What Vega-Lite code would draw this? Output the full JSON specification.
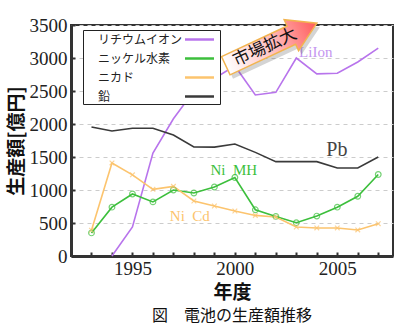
{
  "$schema": "https://vega.github.io/schema/vega-lite/v6.json",
  "autosize": "none",
  "width": 322,
  "height": 231,
  "padding": {"left": 71, "top": 25, "right": 7, "bottom": 75},
  "background": "white",
  "title": {"text": "図　電池の生産額推移", "orient": "bottom", "frame": "group", "anchor": "middle", "font": "Noto Sans CJK JP", "fontSize": 16, "fontWeight": "normal", "color": "#111", "offset": 6},
  "config": {
    "view": {"stroke": "#333", "strokeWidth": 2},
    "axis": {"domainColor": "#333", "domainWidth": 3, "labelFont": "Liberation Serif", "labelFontSize": 19, "labelColor": "#222", "titleFont": "Noto Sans CJK JP", "titleFontSize": 19, "titleFontWeight": "bold", "titleColor": "#111", "tickColor": "#333", "labelOverlap": false}
  },
  "datasets": {
    "main": [
      {"series": "リチウムイオン", "year": 1994, "value": 0},
      {"series": "リチウムイオン", "year": 1995, "value": 440},
      {"series": "リチウムイオン", "year": 1996, "value": 1560},
      {"series": "リチウムイオン", "year": 1997, "value": 2080},
      {"series": "リチウムイオン", "year": 1998, "value": 2500},
      {"series": "リチウムイオン", "year": 1999, "value": 2690},
      {"series": "リチウムイオン", "year": 2000, "value": 2880},
      {"series": "リチウムイオン", "year": 2001, "value": 2440},
      {"series": "リチウムイオン", "year": 2002, "value": 2480},
      {"series": "リチウムイオン", "year": 2003, "value": 3000},
      {"series": "リチウムイオン", "year": 2004, "value": 2760},
      {"series": "リチウムイオン", "year": 2005, "value": 2770},
      {"series": "リチウムイオン", "year": 2006, "value": 2940},
      {"series": "リチウムイオン", "year": 2007, "value": 3150},
      {"series": "ニッケル水素", "year": 1993, "value": 350},
      {"series": "ニッケル水素", "year": 1994, "value": 740},
      {"series": "ニッケル水素", "year": 1995, "value": 940},
      {"series": "ニッケル水素", "year": 1996, "value": 820},
      {"series": "ニッケル水素", "year": 1997, "value": 1000},
      {"series": "ニッケル水素", "year": 1998, "value": 955},
      {"series": "ニッケル水素", "year": 1999, "value": 1045},
      {"series": "ニッケル水素", "year": 2000, "value": 1190},
      {"series": "ニッケル水素", "year": 2001, "value": 700},
      {"series": "ニッケル水素", "year": 2002, "value": 600},
      {"series": "ニッケル水素", "year": 2003, "value": 505},
      {"series": "ニッケル水素", "year": 2004, "value": 605},
      {"series": "ニッケル水素", "year": 2005, "value": 740},
      {"series": "ニッケル水素", "year": 2006, "value": 905},
      {"series": "ニッケル水素", "year": 2007, "value": 1235},
      {"series": "ニカド", "year": 1993, "value": 390},
      {"series": "ニカド", "year": 1994, "value": 1410},
      {"series": "ニカド", "year": 1995, "value": 1230},
      {"series": "ニカド", "year": 1996, "value": 1010},
      {"series": "ニカド", "year": 1997, "value": 1055},
      {"series": "ニカド", "year": 1998, "value": 833},
      {"series": "ニカド", "year": 1999, "value": 758},
      {"series": "ニカド", "year": 2000, "value": 682},
      {"series": "ニカド", "year": 2001, "value": 615},
      {"series": "ニカド", "year": 2002, "value": 590},
      {"series": "ニカド", "year": 2003, "value": 440},
      {"series": "ニカド", "year": 2004, "value": 425},
      {"series": "ニカド", "year": 2005, "value": 425},
      {"series": "ニカド", "year": 2006, "value": 395},
      {"series": "ニカド", "year": 2007, "value": 490},
      {"series": "鉛", "year": 1993, "value": 1955},
      {"series": "鉛", "year": 1994, "value": 1894},
      {"series": "鉛", "year": 1995, "value": 1935},
      {"series": "鉛", "year": 1996, "value": 1935},
      {"series": "鉛", "year": 1997, "value": 1833},
      {"series": "鉛", "year": 1998, "value": 1652},
      {"series": "鉛", "year": 1999, "value": 1650},
      {"series": "鉛", "year": 2000, "value": 1697},
      {"series": "鉛", "year": 2001, "value": 1570},
      {"series": "鉛", "year": 2002, "value": 1430},
      {"series": "鉛", "year": 2003, "value": 1430},
      {"series": "鉛", "year": 2004, "value": 1430},
      {"series": "鉛", "year": 2005, "value": 1333},
      {"series": "鉛", "year": 2006, "value": 1333},
      {"series": "鉛", "year": 2007, "value": 1500}
    ],
    "labels": [
      {"series": "リチウムイオン", "text": "LiIon", "year": 2003.95, "value": 3090},
      {"series": "鉛", "text": "Pb", "year": 2004.98, "value": 1606},
      {"series": "ニッケル水素", "text": "Ni\u00a0\u00a0MH", "year": 1999.95, "value": 1303},
      {"series": "ニカド", "text": "Ni\u00a0\u00a0Cd", "year": 1997.8, "value": 606}
    ],
    "arrow": [
      {"text": "市場拡大", "year": 2001.78, "value": 3205}
    ]
  },
  "encoding": {
    "x": {"field": "year", "type": "quantitative", "scale": {"domain": [1992, 2007.72], "nice": false, "zero": false},
      "axis": {"values": [1993,1994,1995,1996,1997,1998,1999,2000,2001,2002,2003,2004,2005,2006,2007], "labelExpr": "datum.value % 5 == 0 ? datum.label : ''", "format": "d", "title": "年度", "grid": false, "ticks": true, "tickSize": -4, "tickWidth": 2, "labelPadding": 7, "titlePadding": 5, "labelFont": "Liberation Serif", "labelFontSize": 19, "labelOverlap": false}},
    "y": {"field": "value", "type": "quantitative", "scale": {"domain": [0, 3500], "nice": false},
      "axis": {"values": [0,500,1000,1500,2000,2500,3000,3500], "format": "d", "title": "生産額[億円]", "grid": true, "gridDash": [4, 4], "gridColor": "#cccccc", "ticks": true, "tickSize": -4, "tickWidth": 2, "labelPadding": 8, "titlePadding": 3, "labelFont": "Liberation Serif", "labelFontSize": 19, "labelOverlap": false}}
  },
  "layer": [
    {
      "data": {"name": "main"},
      "mark": {"type": "line", "strokeWidth": 1.6},
      "encoding": {
        "color": {"field": "series", "type": "nominal",
          "scale": {"domain": ["リチウムイオン", "ニッケル水素", "ニカド", "鉛"], "range": ["#b874ec", "#3cbf3c", "#fcc46e", "#3a3a3a"]},
          "legend": {"orient": "none", "legendX": 12, "legendY": 5, "title": null, "symbolType": "M-2,0L2,0", "symbolSize": 210, "symbolStrokeWidth": 2.5, "labelFont": "Noto Sans CJK JP", "labelFontSize": 12, "labelColor": "#222", "strokeColor": "#222", "fillColor": "white", "padding": 1, "rowPadding": 4, "symbolOffset": 107, "labelOffset": -110, "labelLimit": 200}}
      }
    },
    {
      "data": {"name": "main"},
      "transform": [{"filter": "datum.series == 'ニッケル水素'"}],
      "mark": {"type": "point", "shape": "circle", "filled": false, "size": 32, "stroke": "#3cbf3c", "strokeWidth": 1.2}
    },
    {
      "data": {"name": "main"},
      "transform": [{"filter": "datum.series == 'ニカド'"}],
      "mark": {"type": "point", "shape": "M-1,-1L1,1M-1,1L1,-1", "filled": false, "size": 22, "stroke": "#fcc46e", "strokeWidth": 1.2}
    },
    {
      "data": {"name": "labels"},
      "transform": [{"filter": "datum.series == 'リチウムイオン'"}],
      "mark": {"type": "text", "font": "Liberation Serif", "fontSize": 15, "color": "#c495f0"},
      "encoding": {"text": {"field": "text"}}
    },
    {
      "data": {"name": "labels"},
      "transform": [{"filter": "datum.series == '鉛'"}],
      "mark": {"type": "text", "font": "Liberation Serif", "fontSize": 20, "color": "#444"},
      "encoding": {"text": {"field": "text"}}
    },
    {
      "data": {"name": "labels"},
      "transform": [{"filter": "datum.series == 'ニッケル水素'"}],
      "mark": {"type": "text", "font": "Liberation Serif", "fontSize": 15, "color": "#3cbf3c"},
      "encoding": {"text": {"field": "text"}}
    },
    {
      "data": {"name": "labels"},
      "transform": [{"filter": "datum.series == 'ニカド'"}],
      "mark": {"type": "text", "font": "Liberation Serif", "fontSize": 15, "color": "#fcc46e"},
      "encoding": {"text": {"field": "text"}}
    },
    {
      "data": {"name": "arrow"},
      "mark": {"type": "point", "shape": "M-1,-0.2L0.44,-0.2L0.44,-0.34L1,0L0.44,0.34L0.44,0.2L-1,0.2Z", "size": 10100, "angle": 335, "filled": true, "opacity": 0.25, "color": "#555", "xOffset": 3, "yOffset": 4, "strokeWidth": 0}
    },
    {
      "data": {"name": "arrow"},
      "mark": {"type": "point", "shape": "M-1,-0.2L0.44,-0.2L0.44,-0.34L1,0L0.44,0.34L0.44,0.2L-1,0.2Z", "size": 10100, "angle": 335, "filled": true, "opacity": 1,
        "fill": {"gradient": "linear", "x1": 0, "y1": 0, "x2": 1, "y2": 0, "stops": [{"offset": 0, "color": "#ffffff"}, {"offset": 0.5, "color": "#ffc0c0"}, {"offset": 1, "color": "#ff5a5a"}]},
        "stroke": "#f2b450", "strokeWidth": 1.5}
    },
    {
      "data": {"name": "arrow"},
      "mark": {"type": "text", "font": "Noto Sans CJK JP", "fontSize": 17, "angle": 335, "color": "#111", "dx": -7, "dy": 0, "align": "center", "baseline": "middle"},
      "encoding": {"text": {"field": "text"}}
    }
  ]
}
